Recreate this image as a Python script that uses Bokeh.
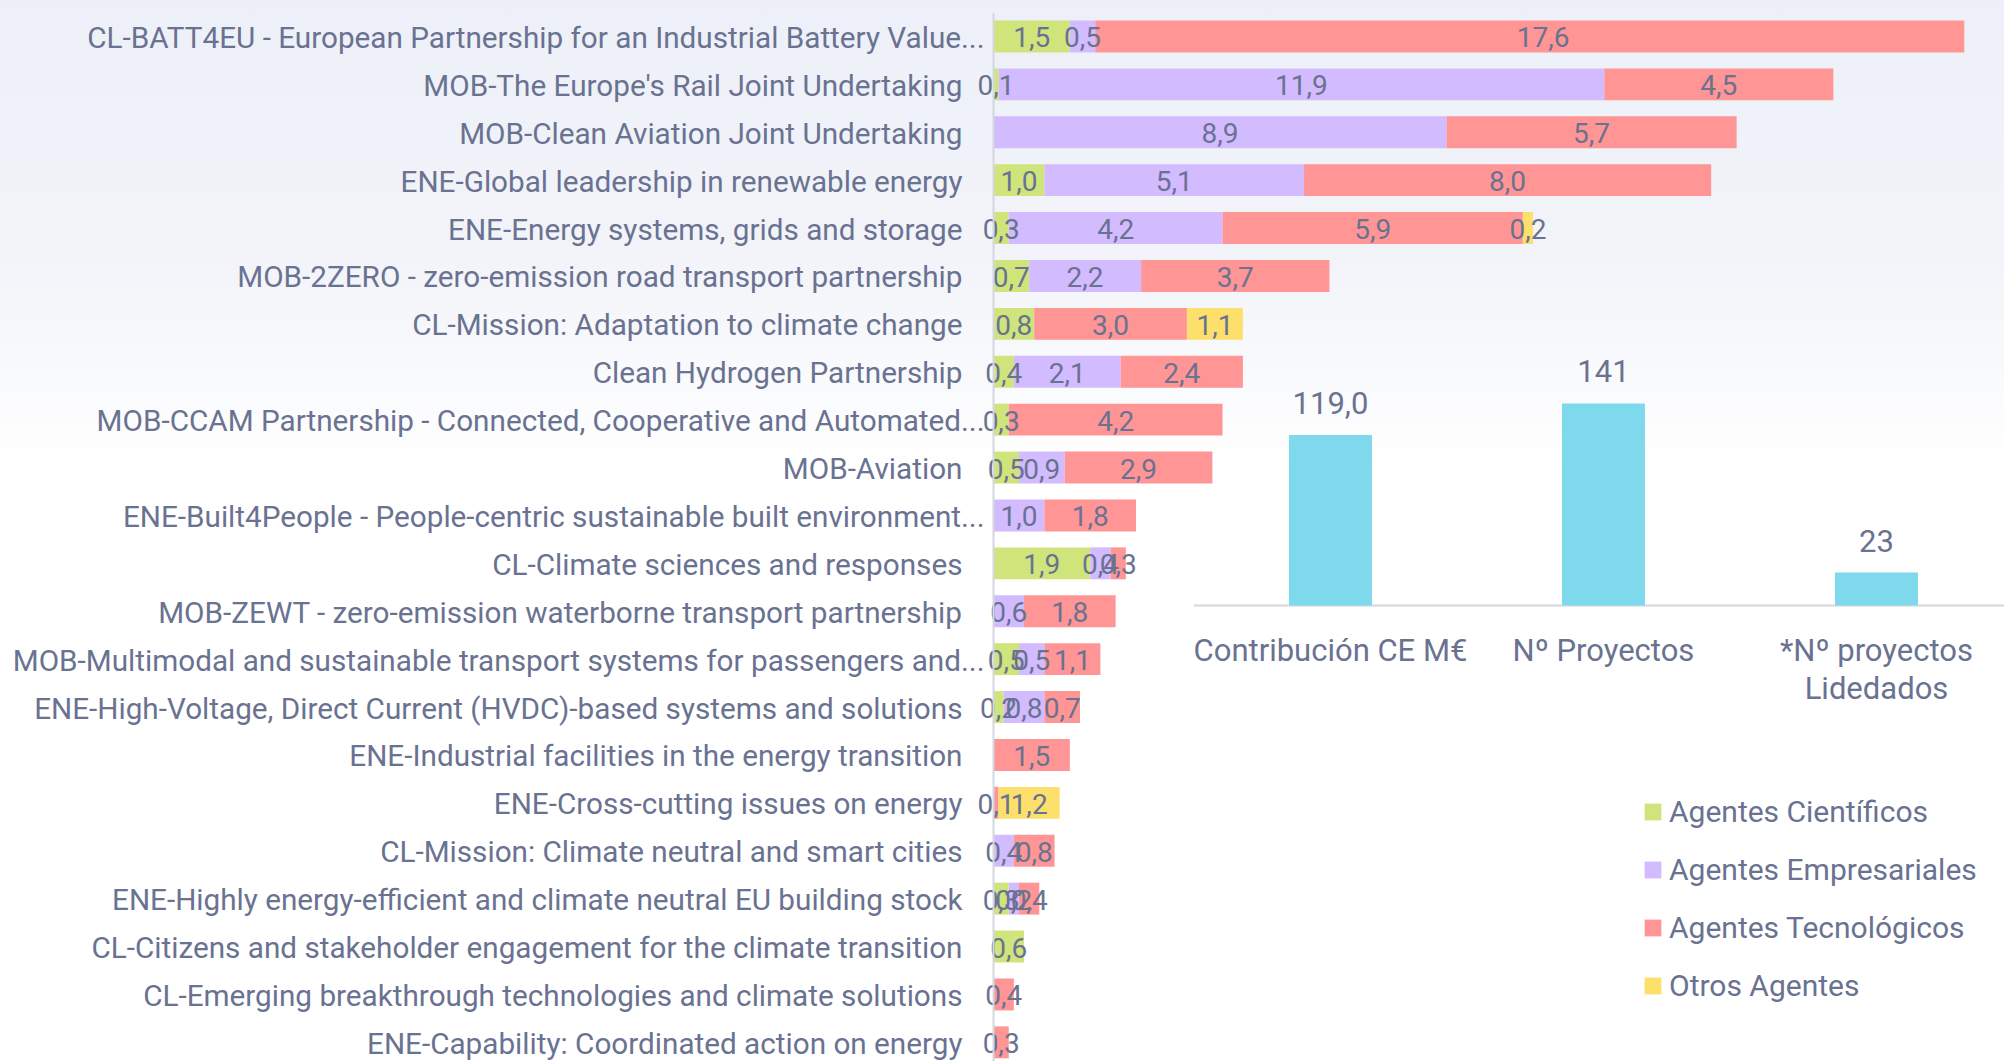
import numpy as np
from bokeh.plotting import figure
from bokeh.models import Range1d, ColumnDataSource, Legend, LegendItem, Span, GridBox, Column
from bokeh.core.properties import value
from bokeh.embed import file_html
from bokeh.resources import INLINE

# ---------------- data ----------------
categories = [
    "CL-BATT4EU - European Partnership for an Industrial Battery Value...",
    "MOB-The Europe's Rail Joint Undertaking",
    "MOB-Clean Aviation Joint Undertaking",
    "ENE-Global leadership in renewable energy",
    "ENE-Energy systems, grids and storage",
    "MOB-2ZERO - zero-emission road transport partnership",
    "CL-Mission: Adaptation to climate change",
    "Clean Hydrogen Partnership",
    "MOB-CCAM Partnership - Connected, Cooperative and Automated...",
    "MOB-Aviation",
    "ENE-Built4People - People-centric sustainable built environment...",
    "CL-Climate sciences and responses",
    "MOB-ZEWT - zero-emission waterborne transport partnership",
    "MOB-Multimodal and sustainable transport systems for passengers and...",
    "ENE-High-Voltage, Direct Current (HVDC)-based systems and solutions",
    "ENE-Industrial facilities in the energy transition",
    "ENE-Cross-cutting issues on energy",
    "CL-Mission: Climate neutral and smart cities",
    "ENE-Highly energy-efficient and climate neutral EU building stock",
    "CL-Citizens and stakeholder engagement for the climate transition",
    "CL-Emerging breakthrough technologies and climate solutions",
    "ENE-Capability: Coordinated action on energy",
]
cientificos   = [1.5, 0.1, 0.0, 1.0, 0.3, 0.7, 0.8, 0.4, 0.3, 0.5, 0.0, 1.9, 0.0, 0.5, 0.2, 0.0, 0.0, 0.0, 0.3, 0.6, 0.0, 0.0]
empresariales = [0.5, 11.9, 8.9, 5.1, 4.2, 2.2, 0.0, 2.1, 0.0, 0.9, 1.0, 0.4, 0.6, 0.5, 0.8, 0.0, 0.0, 0.4, 0.2, 0.0, 0.0, 0.0]
tecnologicos  = [17.6, 4.5, 5.7, 8.0, 5.9, 3.7, 3.0, 2.4, 4.2, 2.9, 1.8, 0.3, 1.8, 1.1, 0.7, 1.5, 0.1, 0.8, 0.4, 0.0, 0.4, 0.3]
otros         = [0.0, 0.0, 0.0, 0.0, 0.2, 0.0, 1.1, 0.0, 0.0, 0.0, 0.0, 0.0, 0.0, 0.0, 0.0, 0.0, 1.2, 0.0, 0.0, 0.0, 0.0, 0.0]

series_names = ["Agentes Científicos", "Agentes Empresariales", "Agentes Tecnológicos", "Otros Agentes"]
series_colors = ["#CFE57B", "#D3BBFF", "#FF9595", "#FCE06B"]

summary_labels = ["Contribución CE M€", "Nº Proyectos", "*Nº proyectos\nLidedados"]
summary_values = [119.0, 141, 23]
summary_text = ["119,0", "141", "23"]

FONT = "Roboto"
TXT = "#6A7291"
AXIS = "#D3D7E0"

# ---------------- main figure ----------------
n = len(categories)
idx = list(range(n))
W, H = 2004, 1061
TOP = 12
ROW = 47.9

p = figure(width=W, height=H, output_backend="svg", toolbar_location=None,
           x_range=Range1d(-19.509, 19.077), y_range=Range1d(-0.5 + (H - TOP) / ROW, -0.5),
           x_axis_location=None, y_axis_location=None,
           min_border_left=0, min_border_right=40, min_border_top=TOP, min_border_bottom=0)
p.background_fill_color = None
p.border_fill_color = None
p.outline_line_color = None
p.styles = {"background": "linear-gradient(to bottom, #EDF0F8 0px, #F2F4F9 260px, #FFFFFF 470px)"}
p.xgrid.visible = False
p.ygrid.visible = False

# category axis line
p.add_layout(Span(location=0, dimension="height", line_color=AXIS, line_width=2))

# category labels (truncated labels sit closer to the axis, as in the source)
lab_src = ColumnDataSource(dict(
    x=[0] * n, y=idx, text=categories,
    off=[-9 if c.endswith("...") else -31 for c in categories]))
p.text(x="x", y="y", text="text", source=lab_src, text_font=value(FONT), text_font_size="29.7px",
       text_color=TXT, text_align="right", text_baseline="middle", x_offset="off", y_offset=1)

src = ColumnDataSource(dict(y=idx, c=cientificos, e=empresariales, t=tecnologicos, o=otros))
p.hbar_stack(["c", "e", "t", "o"], y="y", height=0.667, color=series_colors,
             line_color=None, source=src)

# data labels centred in each segment
lx, ly, lt = [], [], []
for i in idx:
    start = 0.0
    for vals in (cientificos, empresariales, tecnologicos, otros):
        v = vals[i]
        if v > 0:
            lx.append(start + v / 2)
            ly.append(i)
            lt.append(f"{v:.1f}".replace(".", ","))
        start += v
p.text(x=lx, y=ly, text=lt, text_font=value(FONT), text_font_size="28px",
       text_color=TXT, text_align="center", text_baseline="middle", y_offset=1)

# ---------------- inset summary bar chart + legend ----------------
IL, IT = 1170, 280
IW, IH = W - IL, H - IT
SCALE = 1.433      # px per unit
BASE = 605 - IT    # baseline from inset top
inset = figure(width=IW, height=IH, output_backend="svg", toolbar_location=None,
               x_range=Range1d(-0.586, -0.586 + IW / 273.0),
               y_range=Range1d(-(IH - BASE) / SCALE, BASE / SCALE),
               x_axis_location=None, y_axis_location=None, min_border=0)
inset.background_fill_color = None
inset.border_fill_color = None
inset.outline_line_color = None
inset.xgrid.visible = False
inset.ygrid.visible = False

sx = list(range(len(summary_labels)))
inset.segment(x0=[-0.5], y0=[0], x1=[len(sx) - 0.5], y1=[0], line_color=AXIS, line_width=2)
inset.vbar(x=sx, top=summary_values, width=0.304, bottom=0, color="#7FD9EC", line_color=None)
inset.text(x=sx, y=summary_values, text=summary_text, text_font=value(FONT), text_font_size="31px",
           text_color=TXT, text_align="center", text_baseline="alphabetic", y_offset=-32)
inset.text(x=sx, y=[0] * len(sx), text=summary_labels, text_font=value(FONT), text_font_size="31px",
           text_color=TXT, text_align="center", text_baseline="top", y_offset=26,
           text_line_height=1.05)

# legend swatches: series-coloured glyphs without drawable data (NaN), used only as keys
swatches = [inset.hbar(y=np.array([np.nan]), right=np.array([np.nan]), height=1,
                       color=c, line_color=None) for c in series_colors]
legend = Legend(items=[LegendItem(label=nm, renderers=[r]) for nm, r in zip(series_names, swatches)],
                location=(1642 - IL, 58), orientation="vertical")
legend.padding = 0
legend.margin = 0
legend.border_line_color = None
legend.background_fill_alpha = 0
legend.glyph_width = 21
legend.glyph_height = 21
legend.label_height = 36
legend.spacing = 22
legend.label_standoff = 6
legend.label_text_font = FONT
legend.label_text_font_size = "30px"
legend.label_text_color = TXT
inset.add_layout(legend)

holder = Column(children=[inset], margin=(IT, 0, 0, IL))
layout = GridBox(children=[(p, 0, 0), (holder, 0, 0)])

open("out.html", "w").write(file_html(layout, INLINE))
